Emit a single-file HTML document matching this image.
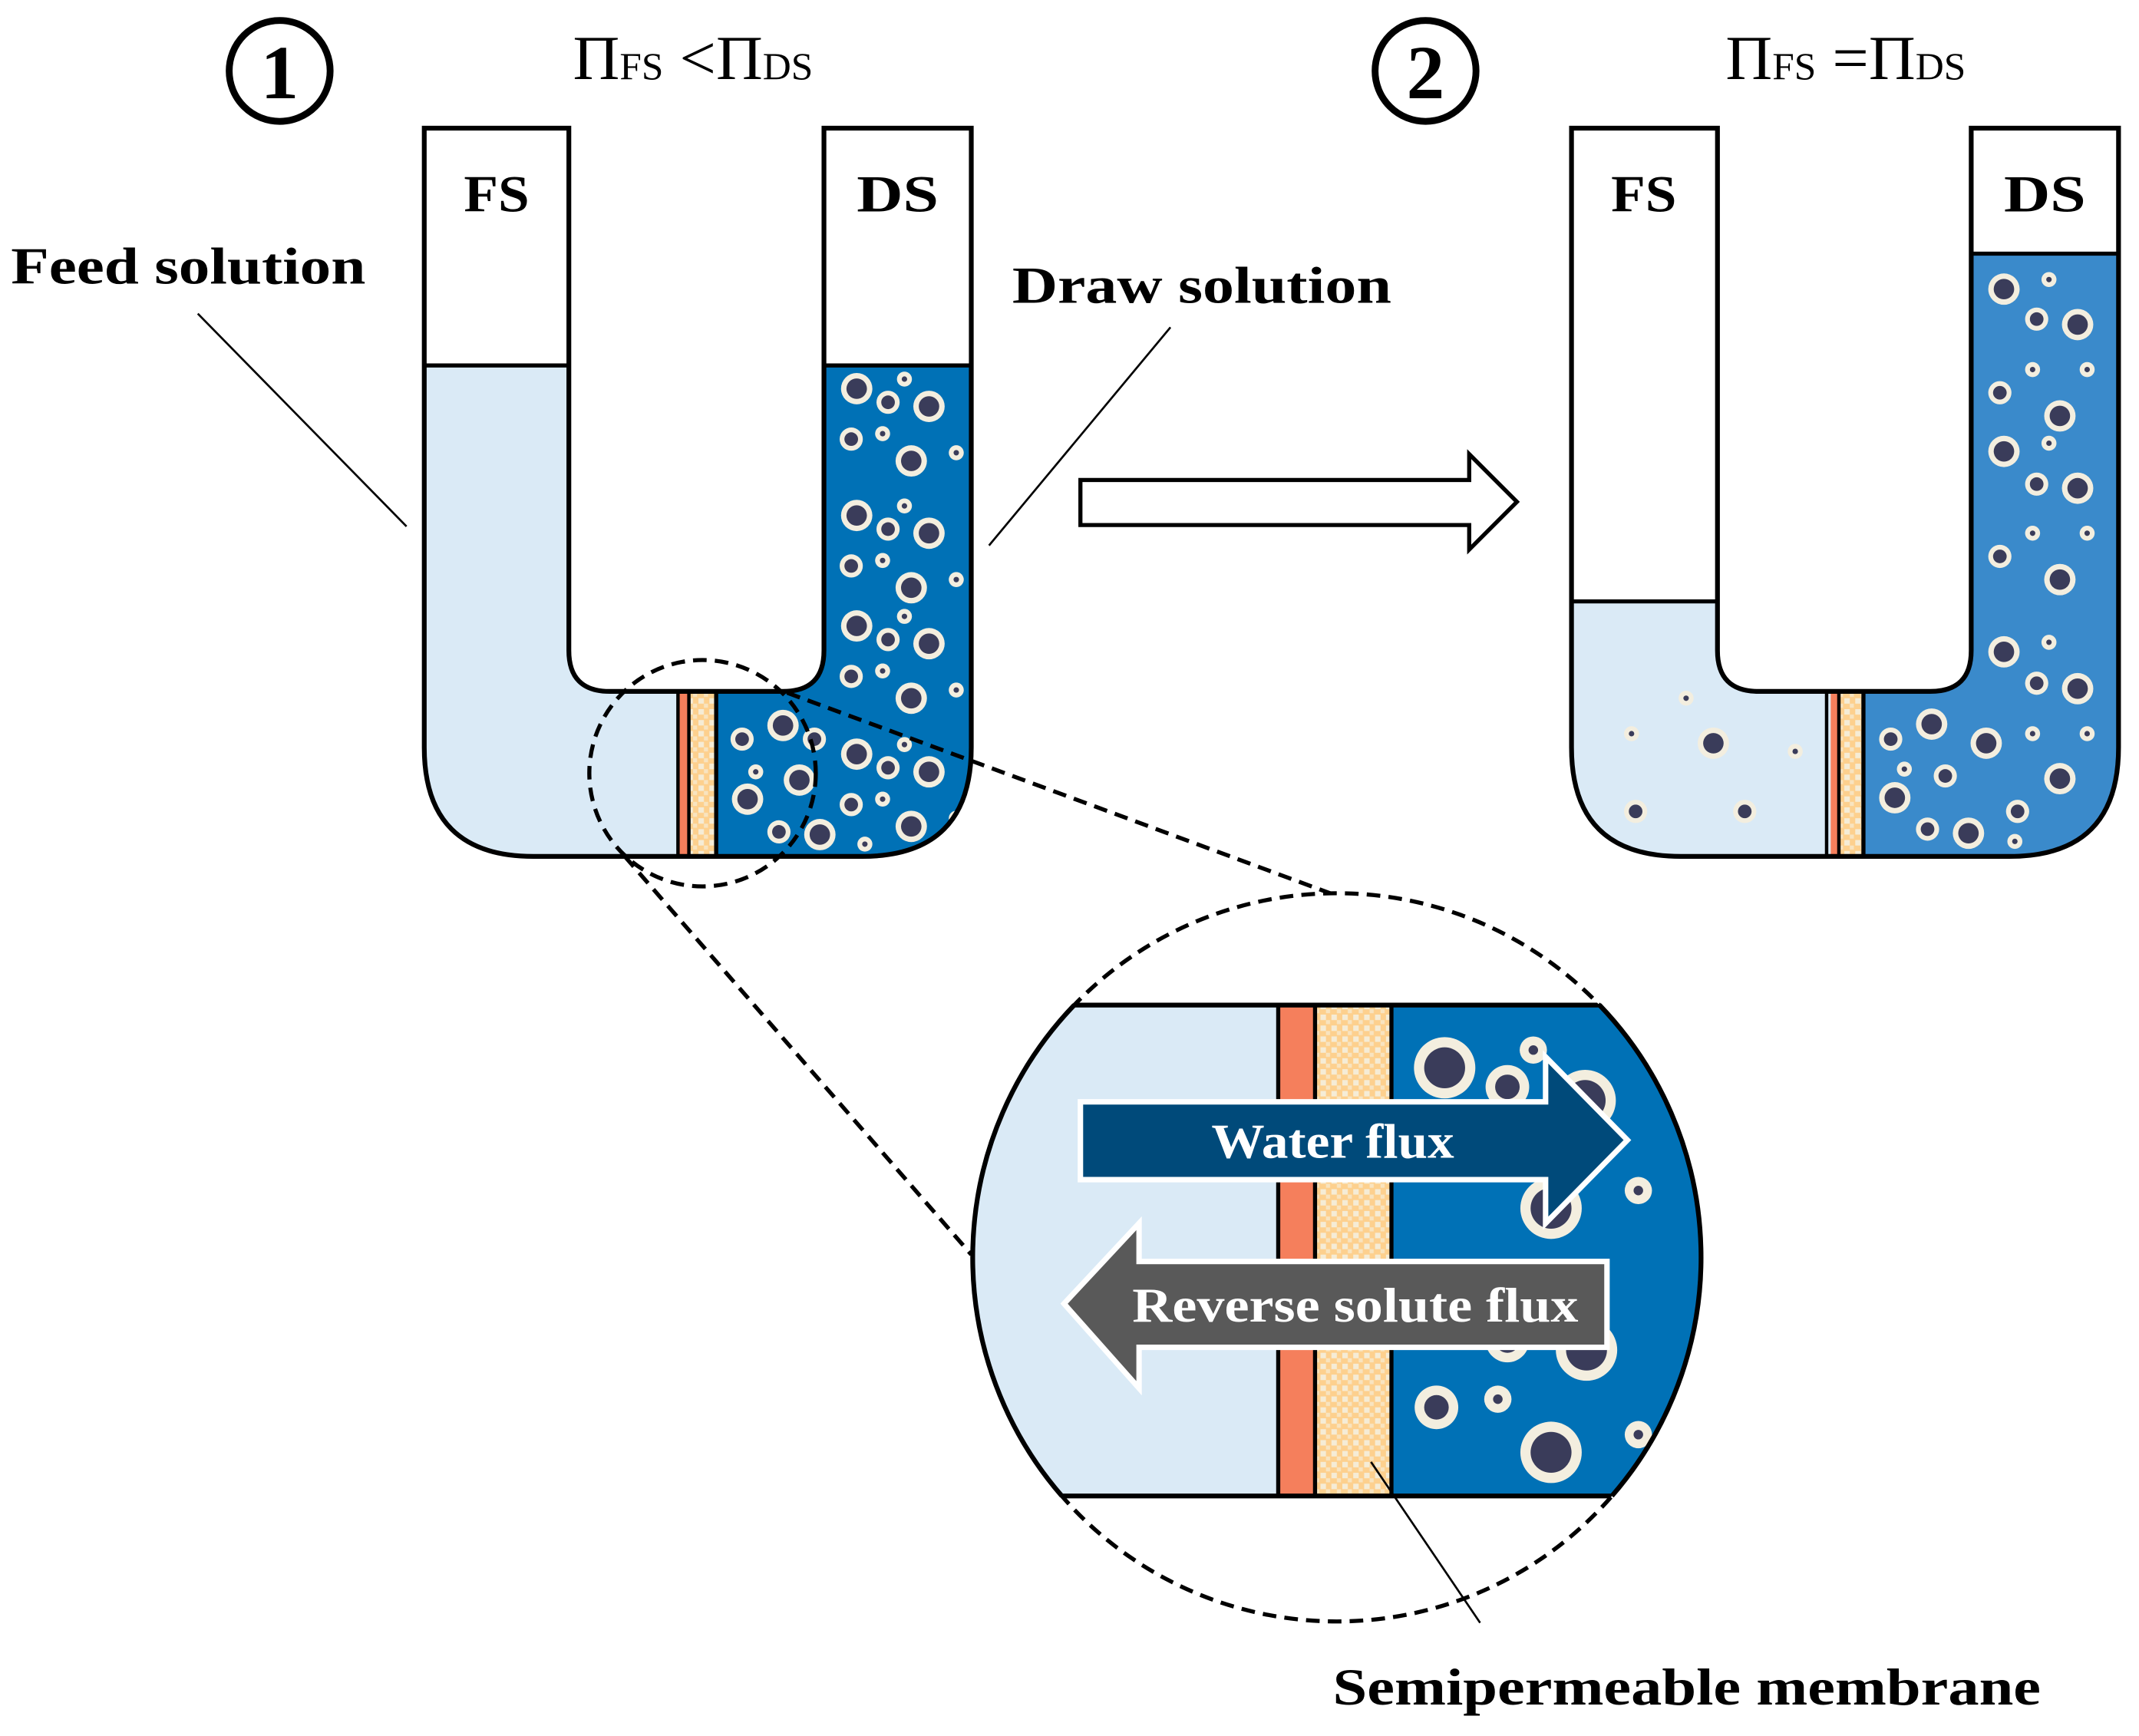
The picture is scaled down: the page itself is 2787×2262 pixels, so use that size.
<!DOCTYPE html>
<html><head><meta charset="utf-8"><style>
html,body{margin:0;padding:0;background:#fff}
svg{display:block}
text{font-family:"Liberation Serif",serif;font-weight:bold}
</style></head><body>
<svg width="2787" height="2262" viewBox="0 0 1568 1273" preserveAspectRatio="none" xmlns="http://www.w3.org/2000/svg">
<defs>
<g id="B"><circle r="11.5" fill="#f3eedf"/><circle r="7.5" fill="#3a3c5a"/></g>
<g id="M"><circle r="8.5" fill="#f3eedf"/><circle r="5" fill="#3a3c5a"/></g>
<g id="S"><circle r="5.5" fill="#f3eedf"/><circle r="2" fill="#3a3c5a"/></g>
<g id="BB"><circle r="22.5" fill="#f3eedf"/><circle r="15" fill="#3a3c5a"/></g>
<g id="MM"><circle r="16" fill="#f3eedf"/><circle r="9" fill="#3a3c5a"/></g>
<g id="SS"><circle r="10" fill="#f3eedf"/><circle r="3.5" fill="#3a3c5a"/></g>
<pattern id="chk" width="8" height="8" patternUnits="userSpaceOnUse">
<rect width="8" height="8" fill="#fdd08e"/><rect x="0" y="0" width="4" height="4" fill="#f5ecd6"/><rect x="4" y="4" width="3" height="3" fill="#f8e4c0"/>
</pattern>
<g id="grp">
<use href="#B" x="628" y="285"/><use href="#M" x="651" y="295"/><use href="#B" x="681" y="298"/><use href="#S" x="663" y="278"/>
<use href="#M" x="624" y="322"/><use href="#S" x="647" y="318"/><use href="#B" x="668" y="338"/><use href="#S" x="701" y="332"/>
</g>
<clipPath id="u1"><path d="M311,94 V548 Q311,628 391,628 H632 Q712,628 712,548 V94 H604 V477 Q604,507 574,507 H447 Q417,507 417,477 V94 Z"/></clipPath>
<clipPath id="u2"><path d="M1152,94 V548 Q1152,628 1232,628 H1473 Q1553,628 1553,548 V94 H1445 V477 Q1445,507 1415,507 H1289 Q1259,507 1259,477 V94 Z"/></clipPath>
<clipPath id="bc"><circle cx="980" cy="922" r="267"/></clipPath>
</defs>

<!-- Left U -->
<g clip-path="url(#u1)">
<rect x="300" y="268" width="197" height="370" fill="#daeaf6"/>
<rect x="497" y="268" width="8" height="370" fill="#f57f5c"/>
<rect x="505" y="268" width="20" height="370" fill="url(#chk)"/>
<rect x="525" y="268" width="200" height="370" fill="#0071b6"/>
<use href="#grp"/><use href="#grp" y="93"/><use href="#grp" y="174"/><use href="#grp" y="268"/>
<use href="#M" x="544" y="542"/><use href="#B" x="574" y="532"/><use href="#M" x="597" y="542"/><use href="#S" x="554" y="566"/>
<use href="#B" x="586" y="572"/><use href="#B" x="548" y="586"/><use href="#M" x="571" y="610"/><use href="#B" x="601" y="612"/><use href="#S" x="634" y="619"/>
</g>
<line x1="311" y1="268" x2="417" y2="268" stroke="#000" stroke-width="3"/>
<line x1="604" y1="268" x2="712" y2="268" stroke="#000" stroke-width="3"/>
<line x1="497" y1="507" x2="497" y2="628" stroke="#000" stroke-width="2.5"/>
<line x1="505" y1="507" x2="505" y2="628" stroke="#000" stroke-width="2.5"/>
<line x1="525" y1="507" x2="525" y2="628" stroke="#000" stroke-width="3"/>
<path d="M311,94 V548 Q311,628 391,628 H632 Q712,628 712,548 V94 H604 V477 Q604,507 574,507 H447 Q417,507 417,477 V94 Z" fill="none" stroke="#000" stroke-width="3.5"/>
<text x="340" y="155" font-size="38" textLength="48" lengthAdjust="spacingAndGlyphs">FS</text>
<text x="628" y="155" font-size="38" textLength="60" lengthAdjust="spacingAndGlyphs">DS</text>

<!-- Right U -->
<g clip-path="url(#u2)">
<rect x="1140" y="441" width="202" height="200" fill="#daeaf6"/>
<rect x="1342" y="400" width="5" height="240" fill="#f57f5c"/>
<rect x="1347" y="400" width="19" height="240" fill="url(#chk)"/>
<rect x="1366" y="186" width="200" height="460" fill="#3a8acb"/>
<use href="#B" x="1469" y="212"/><use href="#S" x="1502" y="205"/><use href="#M" x="1493" y="234"/><use href="#B" x="1523" y="238"/>
<use href="#S" x="1490" y="271"/><use href="#S" x="1530" y="271"/><use href="#M" x="1466" y="288"/><use href="#B" x="1510" y="305"/>
<use href="#B" x="1469" y="331"/><use href="#S" x="1502" y="325"/><use href="#M" x="1493" y="355"/><use href="#B" x="1523" y="358"/>
<use href="#S" x="1490" y="391"/><use href="#S" x="1530" y="391"/><use href="#M" x="1466" y="408"/><use href="#B" x="1510" y="425"/>
<use href="#B" x="1469" y="478"/><use href="#S" x="1502" y="471"/><use href="#M" x="1493" y="501"/><use href="#B" x="1523" y="505"/>
<use href="#S" x="1490" y="538"/><use href="#S" x="1530" y="538"/><use href="#M" x="1386" y="542"/><use href="#B" x="1416" y="531"/>
<use href="#B" x="1456" y="545"/><use href="#S" x="1396" y="564"/><use href="#M" x="1426" y="569"/><use href="#B" x="1389" y="585"/>
<use href="#B" x="1510" y="571"/><use href="#M" x="1479" y="595"/><use href="#M" x="1413" y="608"/><use href="#B" x="1443" y="611"/><use href="#S" x="1477" y="617"/>
<use href="#S" x="1236" y="512"/><use href="#S" x="1196" y="538"/><use href="#B" x="1256" y="545"/><use href="#S" x="1316" y="551"/>
<use href="#M" x="1199" y="595"/><use href="#M" x="1279" y="595"/>
</g>
<line x1="1152" y1="441" x2="1259" y2="441" stroke="#000" stroke-width="3"/>
<line x1="1445" y1="186" x2="1553" y2="186" stroke="#000" stroke-width="3"/>
<line x1="1339" y1="507" x2="1339" y2="628" stroke="#000" stroke-width="2.5"/>
<line x1="1348" y1="507" x2="1348" y2="628" stroke="#000" stroke-width="2.5"/>
<line x1="1366" y1="507" x2="1366" y2="628" stroke="#000" stroke-width="3"/>
<path d="M1152,94 V548 Q1152,628 1232,628 H1473 Q1553,628 1553,548 V94 H1445 V477 Q1445,507 1415,507 H1289 Q1259,507 1259,477 V94 Z" fill="none" stroke="#000" stroke-width="3.5"/>
<text x="1181" y="155" font-size="38" textLength="48" lengthAdjust="spacingAndGlyphs">FS</text>
<text x="1469" y="155" font-size="38" textLength="60" lengthAdjust="spacingAndGlyphs">DS</text>

<!-- numbers & titles -->
<circle cx="205" cy="52" r="37" fill="none" stroke="#000" stroke-width="5"/>
<text x="205" y="72" font-size="56" text-anchor="middle">1</text>
<circle cx="1045" cy="52" r="37" fill="none" stroke="#000" stroke-width="5"/>
<text x="1045" y="72" font-size="56" text-anchor="middle">2</text>
<text x="420" y="58" font-size="46" style="font-weight:normal" textLength="176" lengthAdjust="spacingAndGlyphs">Π<tspan font-size="28">FS</tspan> &lt;Π<tspan font-size="28">DS</tspan></text>
<text x="1265" y="58" font-size="46" style="font-weight:normal" textLength="176" lengthAdjust="spacingAndGlyphs">Π<tspan font-size="28">FS</tspan> =Π<tspan font-size="28">DS</tspan></text>

<!-- labels -->
<text x="8" y="208" font-size="38" textLength="260" lengthAdjust="spacingAndGlyphs">Feed solution</text>
<line x1="145" y1="230" x2="298" y2="386" stroke="#000" stroke-width="1.5"/>
<text x="742" y="222" font-size="38" textLength="278" lengthAdjust="spacingAndGlyphs">Draw solution</text>
<line x1="858" y1="240" x2="725" y2="400" stroke="#000" stroke-width="1.5"/>

<!-- hollow arrow -->
<path d="M792,352 H1077 V333 L1112,368 L1077,403 V385 H792 Z" fill="#fff" stroke="#000" stroke-width="3"/>

<!-- dashed zoom -->
<circle cx="515" cy="567" r="83" fill="none" stroke="#000" stroke-width="3" stroke-dasharray="10,6"/>
<line x1="458" y1="628" x2="712" y2="920" stroke="#000" stroke-width="3" stroke-dasharray="10,6"/>
<line x1="577" y1="508" x2="975" y2="655" stroke="#000" stroke-width="3" stroke-dasharray="10,6"/>
<circle cx="980" cy="922" r="267" fill="none" stroke="#000" stroke-width="3" stroke-dasharray="10,6"/>

<!-- big circle content -->
<g clip-path="url(#bc)">
<rect x="700" y="737" width="237" height="360" fill="#daeaf6"/>
<rect x="937" y="737" width="27" height="360" fill="#f57f5c"/>
<rect x="964" y="737" width="56" height="360" fill="url(#chk)"/>
<rect x="1020" y="737" width="240" height="360" fill="#0071b6"/>
<use href="#BB" x="1059" y="783"/><use href="#MM" x="1105" y="797"/><use href="#SS" x="1124" y="770"/><use href="#BB" x="1162" y="807"/>
<use href="#BB" x="1137" y="886"/><use href="#SS" x="1201" y="873"/><use href="#MM" x="1105" y="983"/><use href="#BB" x="1163" y="990"/>
<use href="#MM" x="1053" y="1032"/><use href="#SS" x="1098" y="1026"/><use href="#BB" x="1137" y="1065"/><use href="#SS" x="1201" y="1052"/>
<line x1="937" y1="737" x2="937" y2="1097" stroke="#000" stroke-width="3"/>
<line x1="964" y1="737" x2="964" y2="1097" stroke="#000" stroke-width="3"/>
<line x1="1020" y1="737" x2="1020" y2="1097" stroke="#000" stroke-width="3"/>
<line x1="700" y1="737" x2="1260" y2="737" stroke="#000" stroke-width="3.5"/>
<line x1="700" y1="1097" x2="1260" y2="1097" stroke="#000" stroke-width="3.5"/>
</g>
<path d="M787.5,737 A267,267 0 0 0 778.4,1097" fill="none" stroke="#000" stroke-width="3.5"/>
<path d="M1172.5,737 A267,267 0 0 1 1181.6,1097" fill="none" stroke="#000" stroke-width="3.5"/>

<path d="M792,808 H1133 V775 L1193,836 L1133,897 V865 H792 Z" fill="#004a7a" stroke="#fff" stroke-width="4"/>
<text x="888" y="849" font-size="36" fill="#fff" textLength="178" lengthAdjust="spacingAndGlyphs">Water flux</text>
<path d="M1178,925 H835 V897 L780,956 L835,1018 V988 H1178 Z" fill="#595959" stroke="#fff" stroke-width="4"/>
<text x="830" y="969" font-size="36" fill="#fff" textLength="327" lengthAdjust="spacingAndGlyphs">Reverse solute flux</text>

<line x1="1005" y1="1072" x2="1085" y2="1190" stroke="#000" stroke-width="1.5"/>
<text x="977" y="1250" font-size="38" textLength="519" lengthAdjust="spacingAndGlyphs">Semipermeable membrane</text>
</svg>
</body></html>
